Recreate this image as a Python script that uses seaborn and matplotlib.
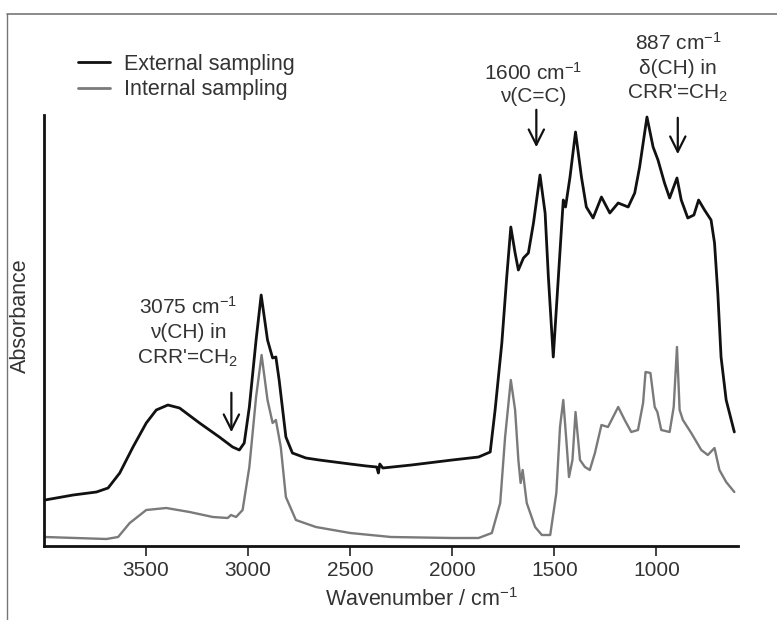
import numpy as np
import pandas as pd
import matplotlib
matplotlib.use('Agg')
import matplotlib.pyplot as plt
from matplotlib.lines import Line2D
import seaborn as sns

# wavenumbers (cm-1) and absorbance (arbitrary units)
ext_wn = [3995, 3857, 3743, 3686, 3629, 3564, 3499, 3450, 3393, 3336, 3238, 3141,
          3076, 3043, 3019, 2994, 2961, 2936, 2905, 2880, 2864, 2848, 2815, 2783,
          2717, 2652, 2500, 2420, 2370, 2362, 2355, 2340, 2200, 2000, 1871, 1814,
          1790, 1757, 1733, 1713, 1692, 1676, 1651, 1627, 1602, 1570, 1545, 1529,
          1505, 1480, 1456, 1445, 1423, 1396, 1367, 1343, 1310, 1269, 1228, 1187,
          1138, 1106, 1082, 1046, 1016, 992, 960, 935, 899, 878, 846, 816,
          793, 764, 732, 715, 699, 683, 658, 618]
ext_abs = [46, 51, 54, 58, 73, 99, 123, 136, 141, 138, 123, 109,
           99, 96, 103, 139, 206, 251, 206, 188, 189, 166, 109, 93,
           88, 86, 82, 80, 79, 73, 82, 78, 81, 86, 89, 94,
           136, 203, 269, 319, 293, 276, 288, 293, 323, 371, 333, 269,
           189, 269, 346, 339, 369, 414, 369, 339, 328, 349, 333, 343,
           339, 353, 379, 429, 399, 386, 363, 348, 368, 346, 328, 331,
           346, 336, 326, 303, 253, 189, 146, 114]

int_wn = [3995, 3694, 3637, 3580, 3499, 3401, 3287, 3173, 3100, 3084, 3059, 3027,
          2994, 2961, 2934, 2905, 2880, 2864, 2840, 2815, 2766, 2668, 2500, 2300,
          2000, 1871, 1806, 1765, 1741, 1713, 1692, 1676, 1665, 1655, 1635, 1594,
          1561, 1520, 1490, 1472, 1456, 1440, 1428, 1411, 1396, 1374, 1350, 1326,
          1301, 1269, 1237, 1187, 1155, 1123, 1090, 1065, 1053, 1029, 1008, 995,
          976, 935, 915, 899, 886, 870, 829, 780, 748, 715, 691, 658, 618]
int_abs = [9, 7, 9, 23, 36, 38, 34, 29, 28, 31, 29, 36,
           79, 149, 191, 146, 123, 126, 99, 49, 26, 19, 13, 9,
           8, 8, 13, 43, 109, 166, 136, 86, 63, 76, 43, 19,
           11, 11, 53, 119, 146, 103, 69, 86, 134, 86, 79, 76,
           93, 121, 119, 139, 126, 114, 116, 143, 174, 173, 139, 134,
           116, 114, 139, 199, 136, 126, 113, 96, 91, 98, 76, 64, 54]

series_names = ['External sampling', 'Internal sampling']
series_colors = ['#111111', '#7a7a7a']

sns.set_style('white')
plt.rcParams['font.family'] = ['Liberation Sans', 'DejaVu Sans']
plt.rcParams['mathtext.fontset'] = 'custom'
plt.rcParams['mathtext.rm'] = 'Liberation Sans'
plt.rcParams['mathtext.it'] = 'Liberation Sans'

W, H = 777, 620
fig = plt.figure(figsize=(W / 100, H / 100), dpi=100)
ax = fig.add_axes([44 / W, 1 - 546 / H, (738 - 44) / W, (546 - 115) / H])

ext = pd.DataFrame({'wn': ext_wn, 'abs': ext_abs})
intl = pd.DataFrame({'wn': int_wn, 'abs': int_abs})
sns.lineplot(data=ext, x='wn', y='abs', color=series_colors[0], lw=2.0, ax=ax, sort=False)
sns.lineplot(data=intl, x='wn', y='abs', color=series_colors[1], lw=1.7, ax=ax, sort=False)

ax.set_xlim(4000, 600)
ax.set_ylim(0, 431)
ax.set_xticks([3500, 3000, 2500, 2000, 1500, 1000])
ax.set_yticks([])
ax.tick_params(axis='x', direction='out', length=7, width=1.2, labelsize=15, pad=4,
               bottom=True, color='#222222', labelcolor='#333333')
for s in ['top', 'right']:
    ax.spines[s].set_visible(False)
for s in ['left', 'bottom']:
    ax.spines[s].set_color('#111111')
    ax.spines[s].set_linewidth(2)

ax.set_xlabel('Wavenumber / cm$^{\\mathregular{-1}}$', fontsize=15.5, color='#333333')
ax.xaxis.set_label_coords((422 - 44) / (738 - 44), -0.098)
ax.set_ylabel('Absorbance', fontsize=15.5, color='#333333')
ax.yaxis.set_label_coords(-0.019, 0.534)

# legend above the axes
handles = [Line2D([], [], color=c, lw=2.0) for c in series_colors]
fig.legend(handles, series_names, loc='upper left', bbox_to_anchor=(67 / W, 1 - 43 / H),
           frameon=False, fontsize=15.5, handlelength=1.5, handletextpad=0.65,
           labelspacing=0.2, borderpad=0, labelcolor='#333333')

# peak annotations
def label(lines, x, ys):
    for t, y in zip(lines, ys):
        fig.text(x / W, 1 - y / H, t, ha='center', va='center', fontsize=15, color='#333333')

label(['3075 cm$^{\\mathregular{-1}}$', 'ν(CH) in', "CRR'=CH$_{\\mathregular{2}}$"], 188, [307, 333, 358])
label(['1600 cm$^{\\mathregular{-1}}$', 'ν(C=C)'], 533, [73, 97])
label(['887 cm$^{\\mathregular{-1}}$', 'δ(CH) in', "CRR'=CH$_{\\mathregular{2}}$"], 678, [43, 69, 93])

arrow = dict(arrowstyle='->, head_length=1.1, head_width=0.55', color='#111111', lw=1.6)
for x0, ytop, ybot in [(3082, 156, 111), (1588, 439, 396), (895, 431, 389)]:
    ax.annotate('', xy=(x0, ybot), xytext=(x0, ytop), arrowprops=arrow, annotation_clip=False)

# thin image border on top and left
fig.add_artist(Line2D([7 / W, 1], [1 - 14 / H, 1 - 14 / H], color='#777777', lw=1.2))
fig.add_artist(Line2D([7 / W, 7 / W], [0, 1 - 14 / H], color='#777777', lw=1.0))

fig.savefig('out.png', dpi=100)
